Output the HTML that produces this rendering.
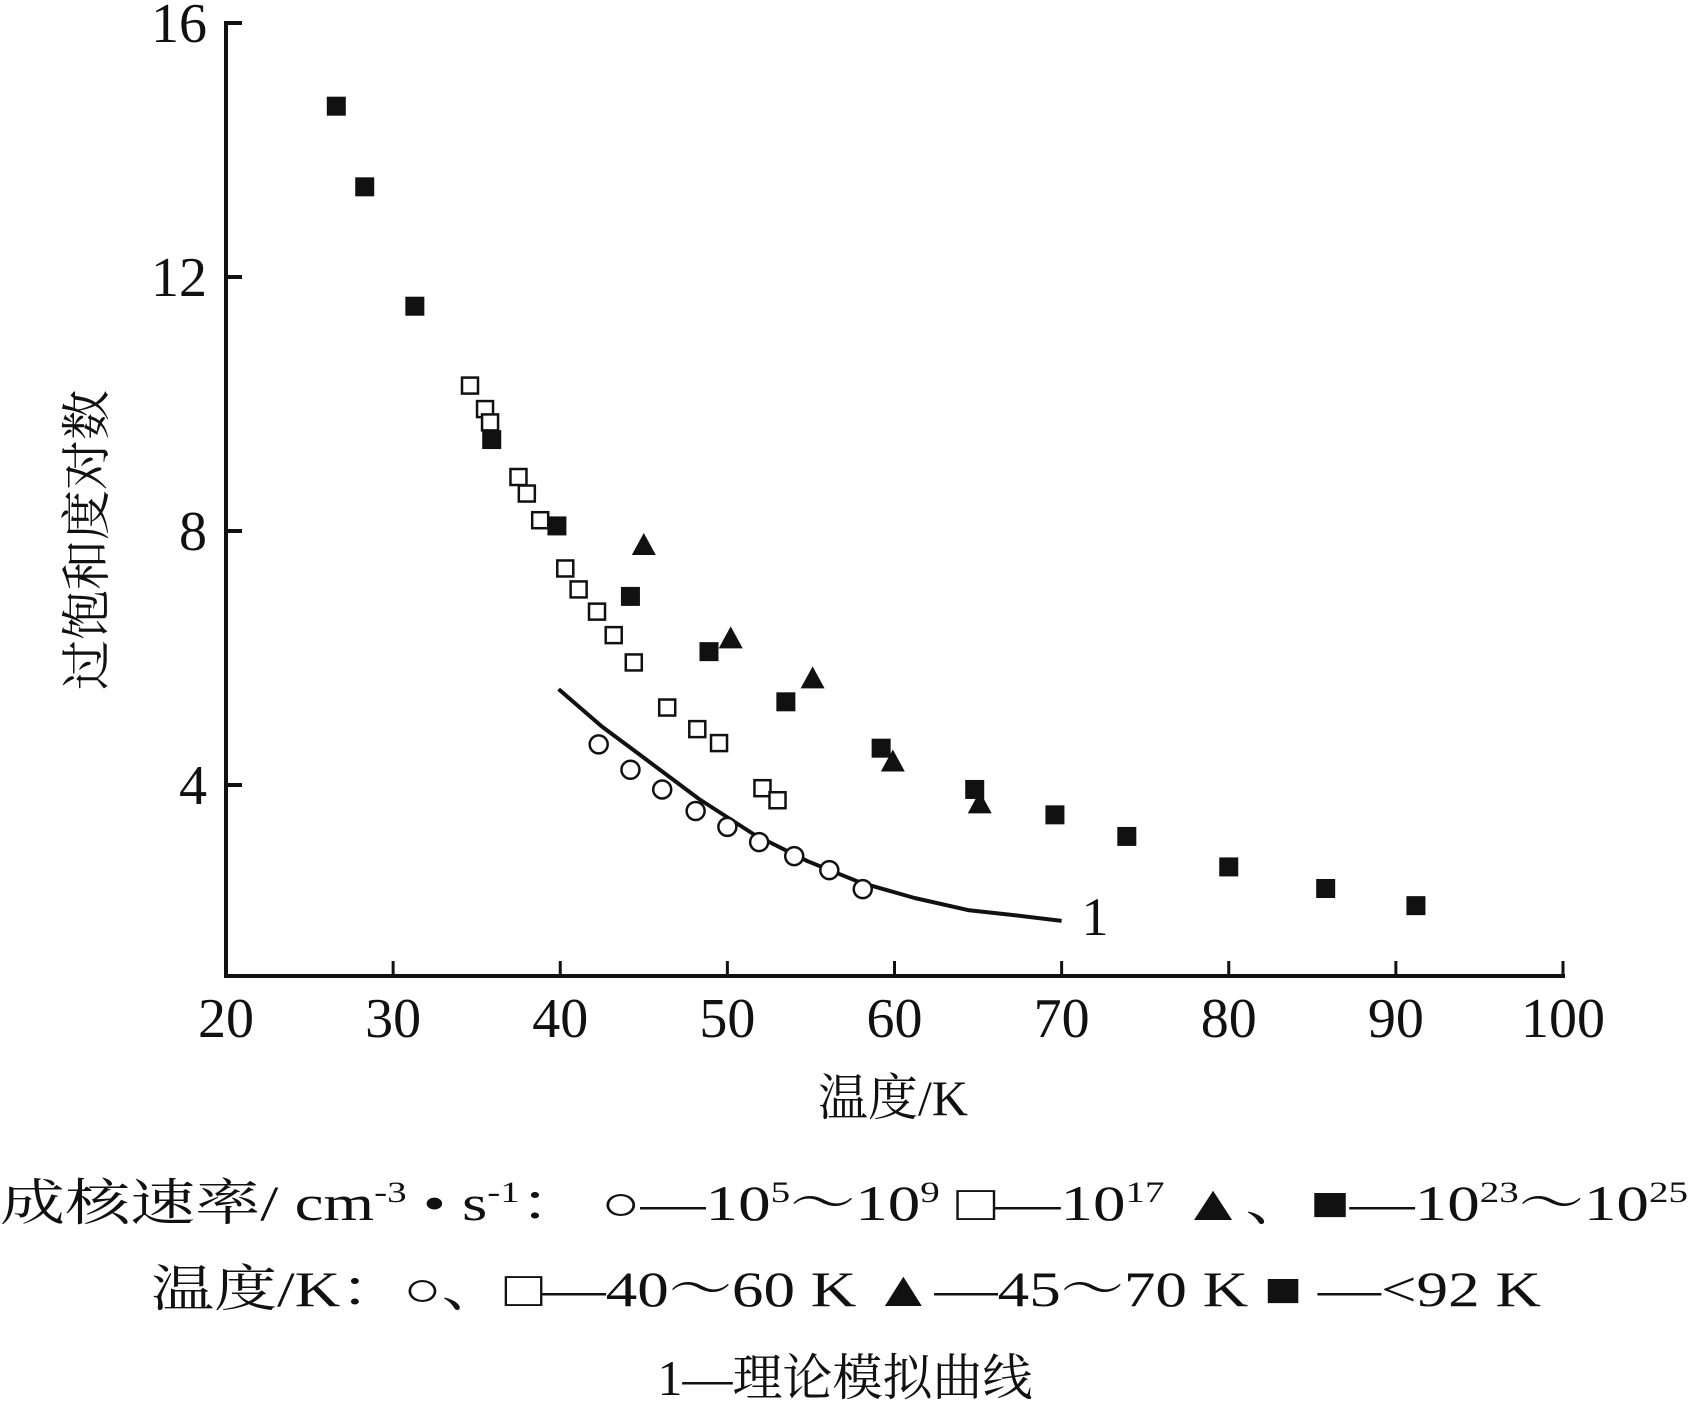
<!DOCTYPE html>
<html><head><meta charset="utf-8"><style>
html,body{margin:0;padding:0;background:#fff;}
svg{display:block;}
text{font-family:"Liberation Serif","Noto Serif CJK SC","Noto Sans CJK SC",serif;fill:#111;}
</style></head><body>
<svg id="chart" width="1688" height="1403" viewBox="0 0 1688 1403" xmlns="http://www.w3.org/2000/svg">
<g id="axes"></g>
<g id="marks"></g>
<text transform="translate(104,540) rotate(-90)" text-anchor="middle" font-size="50">过饱和度对数</text>
<text x="893" y="1115" text-anchor="middle" font-size="50">温度/K</text>
<text x="1095" y="935" text-anchor="middle" font-size="54">1</text>
<text x="0" y="1220" font-size="50" textLength="1688" lengthAdjust="spacingAndGlyphs">成核速率/ cm<tspan dy="-18" font-size="30">-3</tspan><tspan dy="18"> • s</tspan><tspan dy="-18" font-size="30">-1</tspan><tspan dy="18">： ○—10</tspan><tspan dy="-18" font-size="30">5</tspan><tspan dy="18">～10</tspan><tspan dy="-18" font-size="30">9</tspan><tspan dy="18">   □—10</tspan><tspan dy="-18" font-size="30">17</tspan><tspan dy="18">   ▲、■—10</tspan><tspan dy="-18" font-size="30">23</tspan><tspan dy="18">～10</tspan><tspan dy="-18" font-size="30">25</tspan></text>
<text x="151" y="1306" font-size="50" textLength="1390" lengthAdjust="spacingAndGlyphs">温度/K：○、□—40～60 K  ▲—45～70 K  ■ —&lt;92 K</text>
<text x="845" y="1395" text-anchor="middle" font-size="50">1—理论模拟曲线</text>
</svg>
<script>
const xTicks = [20,30,40,50,60,70,80,90,100];
const yTicks = [4,8,12,16];
const filledX = [26.6,28.3,31.3,35.9,39.8,44.2,48.9,53.5,59.2,64.8,69.6,73.9,80.0,85.8,91.2];
const filledY = [14.69,13.42,11.54,9.44,8.08,6.97,6.10,5.31,4.58,3.93,3.53,3.19,2.71,2.37,2.10];
const triX = [45.0,50.2,55.1,59.9,65.1];
const triY = [7.78,6.31,5.68,4.37,3.71];
const openX = [34.6,35.5,35.8,37.5,38.0,38.8,40.3,41.1,42.2,43.2,44.4,46.4,48.2,49.5,52.1,53.0];
const openY = [10.29,9.92,9.71,8.85,8.59,8.17,7.41,7.08,6.73,6.36,5.93,5.22,4.88,4.66,3.95,3.76];
const circX = [42.3,44.2,46.1,48.1,50.0,51.9,54.0,56.1,58.1];
const circY = [4.64,4.24,3.93,3.59,3.34,3.10,2.88,2.66,2.36];
const curveX = [39.9,42.5,45.1,48.3,51.6,54.8,58.0,61.2,64.4,67.2,70.0];
const curveY = [5.51,4.92,4.41,3.78,3.22,2.80,2.46,2.22,2.03,1.95,1.86];

const NS='http://www.w3.org/2000/svg';
const X0=226,X1=1563,XMIN=20,XMAX=100;
const YTOP=23,PXU=63.5,YMAX=16,YBASE=976;
const sx=v=>X0+(v-XMIN)/(XMAX-XMIN)*(X1-X0);
const sy=v=>YTOP+(YMAX-v)*PXU;
function mk(tag,parent){const e=document.createElementNS(NS,tag);parent.appendChild(e);return e;}
const axes=document.getElementById('axes'), marks=document.getElementById('marks');

let yl=mk('line',axes);


yl.setAttribute('x1',X0);yl.setAttribute('x2',X0);yl.setAttribute('y1',YTOP-2);yl.setAttribute('y2',YBASE+2);
yl.setAttribute('stroke','#111');yl.setAttribute('stroke-width','4');
let xl=mk('line',axes);


xl.setAttribute('x1',X0-2);xl.setAttribute('x2',X1+2);xl.setAttribute('y1',YBASE);xl.setAttribute('y2',YBASE);
xl.setAttribute('stroke','#111');xl.setAttribute('stroke-width','4');

xTicks.forEach(t=>{
  const l=mk('line',axes);
  
  
  l.setAttribute('x1',sx(t));l.setAttribute('x2',sx(t));l.setAttribute('y1',YBASE);l.setAttribute('y2',YBASE-15);
  l.setAttribute('stroke','#111');l.setAttribute('stroke-width','3');
  const tx=mk('text',axes);
  
  
  tx.setAttribute('x',sx(t));tx.setAttribute('y',1037);tx.setAttribute('text-anchor','middle');tx.setAttribute('font-size','56');
  tx.textContent=t;
});
yTicks.forEach(t=>{
  const l=mk('line',axes);
  
  
  l.setAttribute('x1',X0);l.setAttribute('x2',X0+16);l.setAttribute('y1',sy(t));l.setAttribute('y2',sy(t));
  l.setAttribute('stroke','#111');l.setAttribute('stroke-width','4');
  const tx=mk('text',axes);
  
  
  tx.setAttribute('x',207);tx.setAttribute('y',sy(t)+19);tx.setAttribute('text-anchor','end');tx.setAttribute('font-size','56');
  tx.textContent=t;
});

// theory curve
let d='';
curveX.forEach((v,i)=>{d+=(i?'L':'M')+sx(v).toFixed(1)+','+sy(curveY[i]).toFixed(1);});
const cp=mk('path',marks);


cp.setAttribute('d',d);cp.setAttribute('fill','none');cp.setAttribute('stroke','#111');cp.setAttribute('stroke-width','4');cp.setAttribute('stroke-linejoin','round');

openX.forEach((v,i)=>{
  const r=mk('rect',marks);
  
  
  r.setAttribute('x',sx(v)-8);r.setAttribute('y',sy(openY[i])-8);r.setAttribute('width',16);r.setAttribute('height',16);
  r.setAttribute('fill','#fff');r.setAttribute('stroke','#111');r.setAttribute('stroke-width','2.5');
});
filledX.forEach((v,i)=>{
  const r=mk('rect',marks);
  
  
  r.setAttribute('x',sx(v)-9.5);r.setAttribute('y',sy(filledY[i])-9.5);r.setAttribute('width',19);r.setAttribute('height',19);
  r.setAttribute('fill','#111');
});
triX.forEach((v,i)=>{
  const p=mk('polygon',marks);
  
  
  const cx=sx(v),cy=sy(triY[i]);
  p.setAttribute('points',`${cx},${cy-12} ${cx-12},${cy+10} ${cx+12},${cy+10}`);
  p.setAttribute('fill','#111');
});
circX.forEach((v,i)=>{
  const c=mk('circle',marks);
  
  
  c.setAttribute('cx',sx(v));c.setAttribute('cy',sy(circY[i]));c.setAttribute('r',9);
  c.setAttribute('fill','#fff');c.setAttribute('stroke','#111');c.setAttribute('stroke-width','2.5');
});
</script>
</body></html>
